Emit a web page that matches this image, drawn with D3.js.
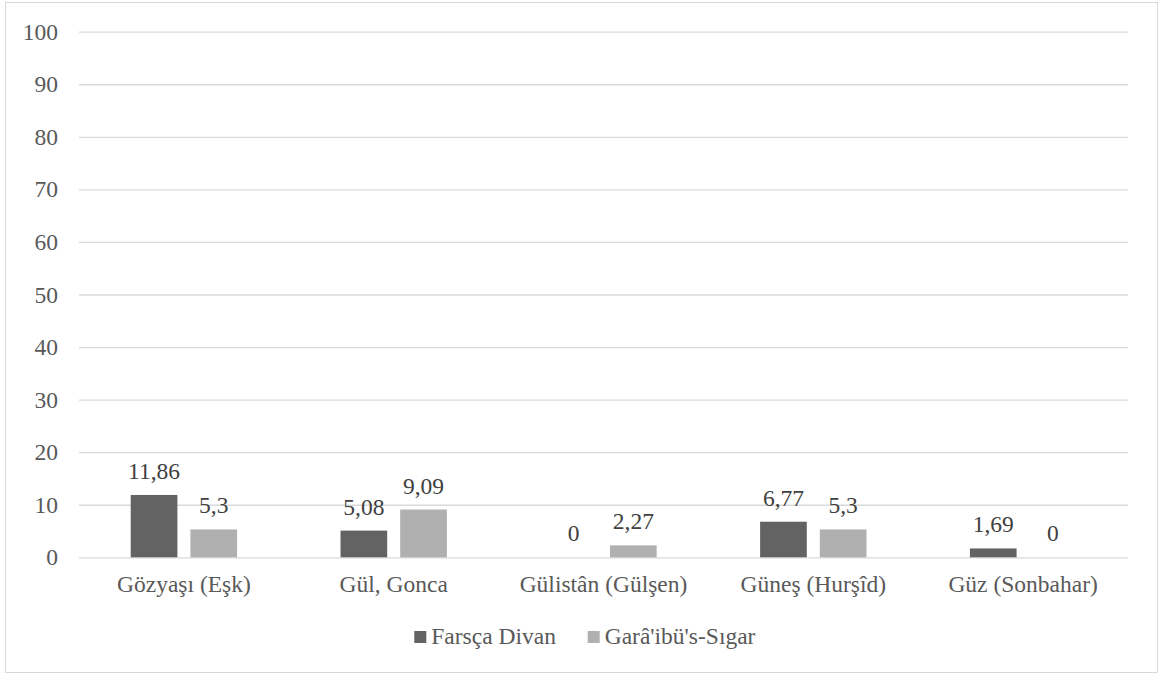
<!DOCTYPE html>
<html><head><meta charset="utf-8">
<script src="https://cdn.jsdelivr.net/npm/d3@7"></script>
<style>body{margin:0;background:#fff}svg{display:block}</style>
</head><body>
<script>
const categories = ["Gözyaşı (Eşk)", "Gül, Gonca", "Gülistân (Gülşen)", "Güneş (Hurşîd)", "Güz (Sonbahar)"];
const seriesNames = ["Farsça Divan", "Garâ'ibü's-Sıgar"];
const farscaDivan = [11.86, 5.08, 0, 6.77, 1.69];
const garaibus = [5.3, 9.09, 2.27, 5.3, 0];
const yTicks = [0, 10, 20, 30, 40, 50, 60, 70, 80, 90, 100];
const colors = ["#636363", "#b0b0b0"];

(function () {
const W = 1164, H = 675;
const font = "Tinos, serif";
const fs = 23.5;
const svg = d3.select("body").append("svg").attr("width", W).attr("height", H)
  .attr("font-family", font);
svg.append("rect").attr("x", 5.5).attr("y", 2.5).attr("width", 1152).attr("height", 670)
  .attr("fill", "#fff").attr("stroke", "#d9d9d9").attr("stroke-width", 1);

const mLeft = 79, mRight = 1128, mTop = 31.7, mBottom = 557.3;
const y = d3.scaleLinear().domain([0, 100]).range([mBottom, mTop]);
const x0 = d3.scaleBand().domain(categories).range([mLeft, mRight]).paddingInner(0).paddingOuter(0);
const bw = x0.bandwidth() * 0.2225, gap = x0.bandwidth() * 0.062;

const yAxis = d3.axisLeft(y).tickValues(yTicks).tickSize(-(mRight - mLeft)).tickPadding(21);
const gy = svg.append("g").attr("transform", `translate(${mLeft},0)`).call(yAxis)
  .attr("font-family", font).attr("font-size", fs);
gy.select(".domain").remove();
gy.selectAll(".tick line").attr("stroke", "#d9d9d9").attr("stroke-width", 1.3);
gy.selectAll(".tick text").attr("fill", "#595959").attr("font-family", font).attr("font-size", fs);

const data = [farscaDivan, garaibus];
data.forEach((vals, si) => {
  const off = si === 0 ? -gap / 2 - bw : gap / 2;
  svg.append("g").selectAll("rect").data(vals).join("rect")
    .attr("x", (d, i) => x0(categories[i]) + x0.bandwidth() / 2 + off)
    .attr("width", bw)
    .attr("y", d => y(d))
    .attr("height", d => y(0) - y(d))
    .attr("fill", colors[si]);
  svg.append("g").selectAll("text").data(vals).join("text")
    .attr("x", (d, i) => x0(categories[i]) + x0.bandwidth() / 2 + off + bw / 2)
    .attr("y", d => y(d) - 16)
    .attr("text-anchor", "middle")
    .attr("fill", "#404040")
    .attr("font-family", font).attr("font-size", fs)
    .text(d => String(d).replace(".", ","));
});

const xAxis = d3.axisBottom(x0).tickSize(0).tickPadding(0);
const gx = svg.append("g").attr("transform", `translate(0,${mBottom})`).call(xAxis)
  .attr("font-family", font).attr("font-size", fs);
gx.select(".domain").remove();
gx.selectAll(".tick text").attr("fill", "#595959").attr("dy", null).attr("y", 35)
  .attr("font-family", font).attr("font-size", fs);

const leg = svg.append("g");
const legX = [414.3, 587.7];
seriesNames.forEach((n, i) => {
  leg.append("rect").attr("x", legX[i]).attr("y", 631).attr("width", 12).attr("height", 12).attr("fill", colors[i]);
  leg.append("text").attr("x", legX[i] + 17).attr("y", 644).attr("fill", "#595959")
    .attr("font-family", font).attr("font-size", fs).text(n);
});
})();
</script>
</body></html>
